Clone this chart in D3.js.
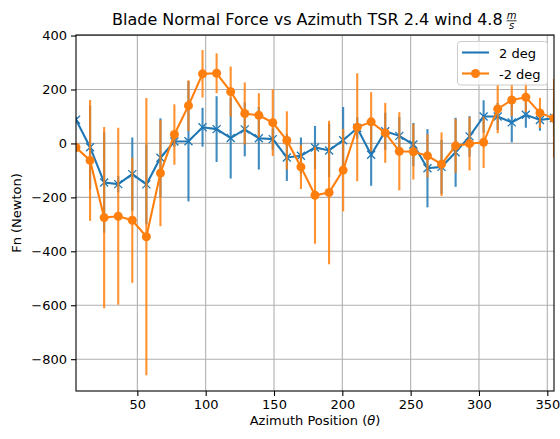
<!DOCTYPE html>
<html><head><meta charset="utf-8">
<script src="https://cdn.jsdelivr.net/npm/d3@7"></script>
<style>body{margin:0;background:#fff}svg{font-family:"DejaVu Sans",sans-serif}</style>
</head><body><svg id="c" width="560" height="439"></svg>
<script>
const azimuth = [5.1,15.4,25.7,36.0,46.3,56.6,66.9,77.1,87.4,97.7,108.0,118.3,128.6,138.9,149.1,159.4,169.7,180.0,190.3,200.6,210.9,221.1,231.4,241.7,252.0,262.3,272.6,282.9,293.1,303.4,313.7,324.0,334.3,344.6,354.9];
const fnPos2 = [88,-14,-145,-151,-114,-152,-53,7,8,60,53,20,52,19,16,-52,-46,-15,-26,12,57,-42,45,28,-4,-92,-87,-33,26,100,100,78,106,87,94];
const errPos2 = [10,155,186,30,136,148,146,20,223,72,122,150,100,116,40,87,68,80,99,123,40,115,69,70,80,145,100,128,75,60,50,74,48,40,68];
const fnNeg2 = [-15,-63,-275,-270,-285,-346,-110,33,140,258,260,192,111,104,77,11,-87,-192,-182,-99,60,80,39,-29,-31,-46,-77,-9,-1,4,128,161,171,113,93];
const errNeg2 = [10,224,336,328,232,514,197,112,94,88,74,93,115,82,124,108,82,180,266,153,200,110,111,145,103,80,118,100,99,95,90,60,55,56,146];
const xTicks = [50,100,150,200,250,300,350];
const yTicks = [-800,-600,-400,-200,0,200,400];
const seriesNames = ["2 deg","-2 deg"];
const colors = ["#1f77b4","#ff7f0e"];

const W=560,H=439,m={l:76,r:6,t:35,b:48};
const FS=13;
const svg=d3.select("#c");
const x=d3.scaleLinear().domain([d3.min(azimuth),d3.max(azimuth)]).range([m.l,W-m.r]);
const y=d3.scaleLinear().domain([-918,402]).range([H-m.b,m.t]);

svg.append("defs").append("clipPath").attr("id","clip").append("rect")
  .attr("x",m.l).attr("y",m.t).attr("width",W-m.l-m.r).attr("height",H-m.t-m.b);

// grid
const g=svg.append("g");
g.selectAll(".gx").data(xTicks).join("line").attr("x1",d=>x(d)).attr("x2",d=>x(d))
  .attr("y1",m.t).attr("y2",H-m.b).attr("stroke","#b0b0b0").attr("stroke-width",1.1);
g.selectAll(".gy").data(yTicks).join("line").attr("y1",d=>y(d)).attr("y2",d=>y(d))
  .attr("x1",m.l).attr("x2",W-m.r).attr("stroke","#b0b0b0").attr("stroke-width",1.1);

const plot=svg.append("g").attr("clip-path","url(#clip)");
const series=[
  {vals:fnPos2,errs:errPos2,color:colors[0],marker:"x"},
  {vals:fnNeg2,errs:errNeg2,color:colors[1],marker:"o"}
];
series.forEach(s=>{
  const pts=azimuth.map((a,i)=>({a,v:s.vals[i],e:s.errs[i]}));
  plot.append("g").selectAll("line").data(pts).join("line")
    .attr("x1",d=>x(d.a)).attr("x2",d=>x(d.a))
    .attr("y1",d=>y(d.v-d.e)).attr("y2",d=>y(d.v+d.e))
    .attr("stroke",s.color).attr("stroke-width",2.1).attr("opacity",0.85);
  plot.append("path").datum(pts)
    .attr("d",d3.line().x(d=>x(d.a)).y(d=>y(d.v)))
    .attr("fill","none").attr("stroke",s.color).attr("stroke-width",2.1);
  if(s.marker==="o"){
    plot.append("g").selectAll("circle").data(pts).join("circle")
      .attr("cx",d=>x(d.a)).attr("cy",d=>y(d.v)).attr("r",4.5).attr("fill",s.color);
  } else {
    const r=4;
    plot.append("g").selectAll("path").data(pts).join("path")
      .attr("d",d=>{const cx=x(d.a),cy=y(d.v);return `M${cx-r},${cy-r}L${cx+r},${cy+r}M${cx-r},${cy+r}L${cx+r},${cy-r}`;})
      .attr("stroke",s.color).attr("stroke-width",1.3).attr("fill","none");
  }
});

// axes
const xa=svg.append("g").attr("transform",`translate(0,${H-m.b})`)
  .call(d3.axisBottom(x).tickValues(xTicks).tickSize(5).tickPadding(4).tickFormat(d3.format("d")));
const ya=svg.append("g").attr("transform",`translate(${m.l},0)`)
  .call(d3.axisLeft(y).tickValues(yTicks).tickSize(5).tickPadding(4).tickFormat(d=>d<0?"\u2212"+Math.abs(d):d));
[xa,ya].forEach(a=>{a.select(".domain").remove();a.selectAll("text").attr("font-size",FS).attr("fill","#000").attr("font-family","DejaVu Sans");a.selectAll("line").attr("stroke","#000").attr("stroke-width",1.1);});
svg.append("rect").attr("x",m.l).attr("y",m.t).attr("width",W-m.l-m.r).attr("height",H-m.t-m.b)
  .attr("fill","none").attr("stroke","#000").attr("stroke-width",1.1);

// labels
svg.append("text").attr("x",(m.l+W-m.r)/2).attr("y",425).attr("text-anchor","middle").attr("font-size",FS)
  .html('Azimuth Position (<tspan font-style="italic">θ</tspan>)');
svg.append("text").attr("transform",`translate(21,${(m.t+H-m.b)/2}) rotate(-90)`).attr("text-anchor","middle").attr("font-size",FS).text("Fn (Newton)");

// title
const t=svg.append("text").attr("x",112).attr("y",25).attr("font-size",16).text("Blade Normal Force vs Azimuth TSR 2.4 wind 4.8");
const tw=t.node().getComputedTextLength();
const fx=112+tw+9;
svg.append("text").attr("x",fx).attr("y",18.5).attr("text-anchor","middle").attr("font-size",10).attr("font-style","italic").text("m");
svg.append("line").attr("x1",fx-5).attr("x2",fx+5).attr("y1",20.8).attr("y2",20.8).attr("stroke","#000").attr("stroke-width",0.8);
svg.append("text").attr("x",fx).attr("y",29).attr("text-anchor","middle").attr("font-size",10).attr("font-style","italic").text("s");

// legend
const lg=svg.append("g");
lg.append("rect").attr("x",457.5).attr("y",41.5).attr("width",90).attr("height",43.5).attr("rx",3)
  .attr("fill","#fff").attr("fill-opacity",0.8).attr("stroke","#cccccc");
seriesNames.forEach((n,i)=>{
  const yy=52.5+i*21;
  lg.append("line").attr("x1",462).attr("x2",489).attr("y1",yy).attr("y2",yy).attr("stroke",colors[i]).attr("stroke-width",2.1);
  if(i===1) lg.append("circle").attr("cx",475.5).attr("cy",yy).attr("r",4.5).attr("fill",colors[i]);
  lg.append("text").attr("x",499).attr("y",yy+5).attr("font-size",FS).text(n);
});
</script></body></html>
